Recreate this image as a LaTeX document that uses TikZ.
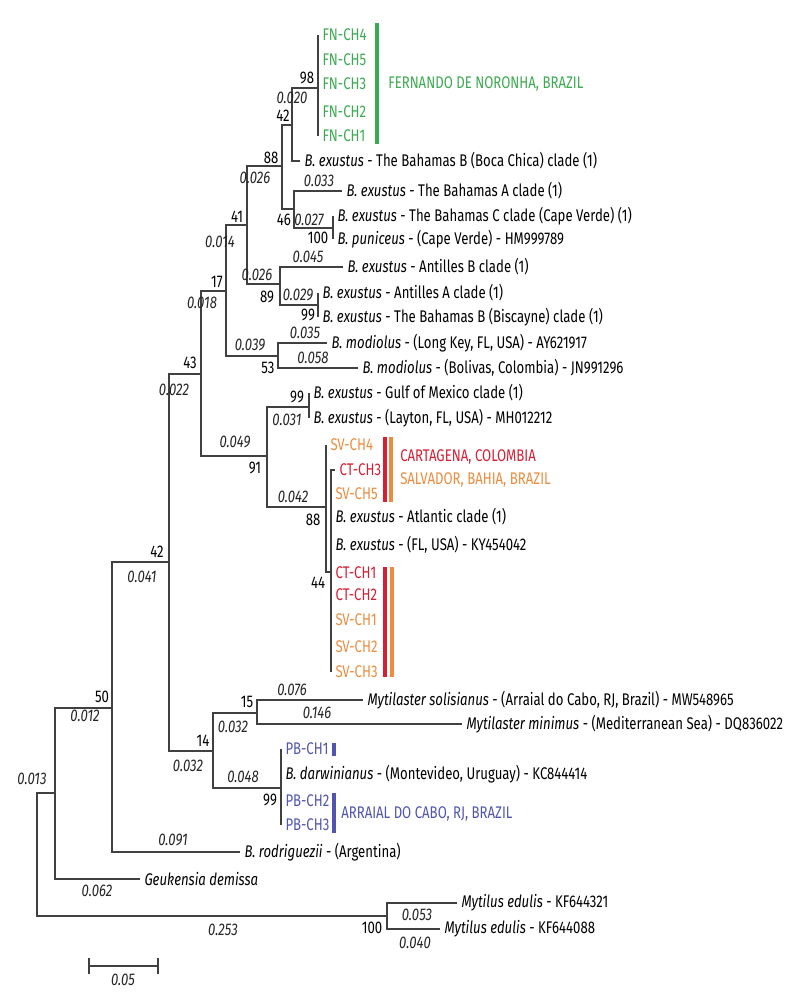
\documentclass[tikz,border=0pt]{standalone}
\usepackage{fontspec}
\setmainfont[FakeStretch=0.78]{Fira Sans}
\definecolor{treegray}{RGB}{64,64,64}
\definecolor{fngreen}{RGB}{60,170,80}
\definecolor{ctred}{RGB}{214,30,52}
\definecolor{svorange}{RGB}{236,140,62}
\definecolor{pbblue}{RGB}{80,85,175}
\newcommand\treefont{\fontsize{12}{13}\selectfont}
\tikzset{
  branch/.style={treegray, line width=1.9pt},
  clbar/.style={line width=2.2pt},
  taxon/.style={anchor=west, inner xsep=3pt, inner ysep=0pt, font=\treefont},
  region/.style={anchor=west, inner sep=0pt, font=\treefont},
  boot/.style={inner sep=0pt, font=\treefont},
  blen/.style={inner sep=0pt, font=\treefont\itshape, text=black!85},
}
\begin{document}
\begin{tikzpicture}[x=0.025cm,y=-0.025cm]
\useasboundingbox (0,0) rectangle (800,998);
% internal nodes
\coordinate (root) at (37,854);
\coordinate (nA) at (55,793);
\coordinate (n50) at (112,708);
\coordinate (n42) at (169,562);
\coordinate (n43) at (201,374);
\coordinate (n17) at (226,291);
\coordinate (n41) at (247,225);
\coordinate (n88a) at (282,166);
\coordinate (n42a) at (292,125);
\coordinate (n98) at (318,88);
\coordinate (n46) at (294,209);
\coordinate (n100a) at (333,228);
\coordinate (n89) at (280,284);
\coordinate (n99a) at (318,305);
\coordinate (n53) at (278,356);
\coordinate (n91) at (267,456);
\coordinate (n99b) at (309,407);
\coordinate (n88b) at (326,507);
\coordinate (n44) at (331,572);
\coordinate (n14) at (213,751);
\coordinate (n15) at (257,713);
\coordinate (nPB) at (281,788);
\coordinate (nMy) at (387,916);
% taxa
\node[taxon, text=fngreen] (fn4) at (318,35) {FN-CH4};
\node[taxon, text=fngreen] (fn5) at (318,60) {FN-CH5};
\node[taxon, text=fngreen] (fn3) at (318,84) {FN-CH3};
\node[taxon, text=fngreen] (fn2) at (318,112) {FN-CH2};
\node[taxon, text=fngreen] (fn1) at (318,136) {FN-CH1};
\node[taxon] (boca) at (300,161) {\textit{B. exustus} - The Bahamas B (Boca Chica) clade (1)};
\node[taxon] (bahA) at (342,191) {\textit{B. exustus} - The Bahamas A clade (1)};
\node[taxon] (bahC) at (333,216) {\textit{B. exustus} - The Bahamas C clade (Cape Verde) (1)};
\node[taxon] (puni) at (333,239) {\textit{B. puniceus} - (Cape Verde) - HM999789};
\node[taxon] (antB) at (343,267) {\textit{B. exustus} - Antilles B clade (1)};
\node[taxon] (antA) at (318,293) {\textit{B. exustus} - Antilles A clade (1)};
\node[taxon] (bisc) at (318,317) {\textit{B. exustus} - The Bahamas B (Biscayne) clade (1)};
\node[taxon] (lkey) at (327,343) {\textit{B. modiolus} - (Long Key, FL, USA) - AY621917};
\node[taxon] (boli) at (358,368) {\textit{B. modiolus} - (Bolivas, Colombia) - JN991296};
\node[taxon] (gulf) at (309,393) {\textit{B. exustus} - Gulf of Mexico clade (1)};
\node[taxon] (layt) at (309,418) {\textit{B. exustus} - (Layton, FL, USA) - MH012212};
\node[taxon, text=svorange] (sv4) at (326,445) {SV-CH4};
\node[taxon, text=ctred] (ct3) at (335,470) {CT-CH3};
\node[taxon, text=svorange] (sv5) at (331,494) {SV-CH5};
\node[taxon] (atl) at (331,517) {\textit{B. exustus} - Atlantic clade (1)};
\node[taxon] (flus) at (331,545) {\textit{B. exustus} - (FL, USA) - KY454042};
\node[taxon, text=ctred] (ct1) at (331,573) {CT-CH1};
\node[taxon, text=ctred] (ct2) at (331,595) {CT-CH2};
\node[taxon, text=svorange] (sv1) at (331,620) {SV-CH1};
\node[taxon, text=svorange] (sv2) at (331,647) {SV-CH2};
\node[taxon, text=svorange] (sv3) at (331,672) {SV-CH3};
\node[taxon] (msol) at (363,700) {\textit{Mytilaster solisianus} - (Arraial do Cabo, RJ, Brazil) - MW548965};
\node[taxon] (mmin) at (462,724) {\textit{Mytilaster minimus} - (Mediterranean Sea) - DQ836022};
\node[taxon, text=pbblue] (pb1) at (281,749) {PB-CH1};
\node[taxon] (darw) at (281,774) {\textit{B. darwinianus} - (Montevideo, Uruguay) - KC844414};
\node[taxon, text=pbblue] (pb2) at (281,801) {PB-CH2};
\node[taxon, text=pbblue] (pb3) at (281,825) {PB-CH3};
\node[taxon] (rodr) at (240,852) {\textit{B. rodriguezii} - (Argentina)};
\node[taxon] (geuk) at (140,879) {\textit{Geukensia demissa}};
\node[taxon] (med1) at (457,903) {\textit{Mytilus edulis} - KF644321};
\node[taxon] (med2) at (440,929) {\textit{Mytilus edulis} - KF644088};
% branches
\draw[branch] (root) |- (nA);
\draw[branch] (root) |- (nMy);
\draw[branch] (nA) |- (n50);
\draw[branch] (nA) |- (geuk.west);
\draw[branch] (n50) |- (n42);
\draw[branch] (n50) |- (rodr.west);
\draw[branch] (n42) |- (n43);
\draw[branch] (n42) |- (n14);
\draw[branch] (n43) |- (n17);
\draw[branch] (n43) |- (n91);
\draw[branch] (n17) |- (n41);
\draw[branch] (n17) |- (n53);
\draw[branch] (n41) |- (n88a);
\draw[branch] (n41) |- (n89);
\draw[branch] (n88a) |- (n42a);
\draw[branch] (n88a) |- (n46);
\draw[branch] (n42a) |- (n98);
\draw[branch] (n42a) |- (boca.west);
\draw[branch] (n98) |- (fn4.west);
\draw[branch] (n98) |- (fn1.west);
\draw[branch] (n46) |- (bahA.west);
\draw[branch] (n46) |- (n100a);
\draw[branch] (n100a) |- (bahC.west);
\draw[branch] (n100a) |- (puni.west);
\draw[branch] (n89) |- (antB.west);
\draw[branch] (n89) |- (n99a);
\draw[branch] (n99a) |- (antA.west);
\draw[branch] (n99a) |- (bisc.west);
\draw[branch] (n53) |- (lkey.west);
\draw[branch] (n53) |- (boli.west);
\draw[branch] (n91) |- (n99b);
\draw[branch] (n91) |- (n88b);
\draw[branch] (n99b) |- (gulf.west);
\draw[branch] (n99b) |- (layt.west);
\draw[branch] (n88b) |- (sv4.west);
\draw[branch] (n88b) |- (n44);
\draw[branch] (n44) |- (ct3.west);
\draw[branch] (n44) |- (sv3.west);
\draw[branch] (n14) |- (n15);
\draw[branch] (n14) |- (nPB);
\draw[branch] (n15) |- (msol.west);
\draw[branch] (n15) |- (mmin.west);
\draw[branch] (nPB) |- (pb1.west);
\draw[branch] (nPB) |- (pb3.west);
\draw[branch] (nMy) |- (med1.west);
\draw[branch] (nMy) |- (med2.west);
% bootstrap values
\node[boot] (b98) at (307,78) {98};
\node[boot] (b42a) at (283,116) {42};
\node[boot] (b88a) at (271,158) {88};
\node[boot] (b46) at (284,220) {46};
\node[boot] (b100a) at (318,238) {100};
\node[boot] (b41) at (237,217) {41};
\node[boot] (b89) at (267,297) {89};
\node[boot] (b99a) at (308,315) {99};
\node[boot] (b17) at (217,282) {17};
\node[boot] (b53) at (268,368) {53};
\node[boot] (b43) at (190,363) {43};
\node[boot] (b99b) at (297,397) {99};
\node[boot] (b91) at (255,468) {91};
\node[boot] (b88b) at (313,520) {88};
\node[boot] (b44) at (318,583) {44};
\node[boot] (b42) at (157,552) {42};
\node[boot] (b50) at (102,697) {50};
\node[boot] (b15) at (247,702) {15};
\node[boot] (b14) at (203,741) {14};
\node[boot] (b99c) at (270,800) {99};
\node[boot] (b100b) at (372,928) {100};
% branch lengths
\node[blen] (l98) at (292,98) {0.020};
\node[blen] (l88a) at (255,178) {0.026};
\node[blen] (lbahA) at (319,181) {0.033};
\node[blen] (l100a) at (309,220) {0.027};
\node[blen] (l41) at (220,242) {0.014};
\node[blen] (lantB) at (308,257) {0.045};
\node[blen] (l89) at (257,275) {0.026};
\node[blen] (l99a) at (298,295) {0.029};
\node[blen] (l17) at (202,303) {0.018};
\node[blen] (llkey) at (305,333) {0.035};
\node[blen] (l53) at (250,345) {0.039};
\node[blen] (lboli) at (313,358) {0.058};
\node[blen] (l43) at (174,390) {0.022};
\node[blen] (l99b) at (287,420) {0.031};
\node[blen] (l91) at (235,442) {0.049};
\node[blen] (l88b) at (293,497) {0.042};
\node[blen] (l42) at (142,577) {0.041};
\node[blen] (lmsol) at (292,690) {0.076};
\node[blen] (lmmin) at (317,713) {0.146};
\node[blen] (l15) at (233,727) {0.032};
\node[blen] (l50) at (85,716) {0.012};
\node[blen] (l14) at (188,766) {0.032};
\node[blen] (lPB) at (243,777) {0.048};
\node[blen] (lA) at (32,779) {0.013};
\node[blen] (lrodr) at (173,840) {0.091};
\node[blen] (lgeuk) at (97,891) {0.062};
\node[blen] (lmed1) at (417,915) {0.053};
\node[blen] (lMy) at (223,930) {0.253};
\node[blen] (lmed2) at (415,943) {0.040};
% locality bars
\draw[clbar, fngreen] (377,23) -- (377,144);
\node[region, text=fngreen] (fern) at (388,84) {FERNANDO DE NORONHA, BRAZIL};
\draw[clbar, ctred] (385,437) -- (385,502);
\draw[clbar, svorange] (391,437) -- (391,502);
\node[region, text=ctred] (cart) at (400,457) {CARTAGENA, COLOMBIA};
\node[region, text=svorange] (salv) at (400,480) {SALVADOR, BAHIA, BRAZIL};
\draw[clbar, ctred] (385,567) -- (385,677);
\draw[clbar, svorange] (392,567) -- (392,677);
\draw[clbar, pbblue] (334,743) -- (334,756);
\draw[clbar, pbblue] (334,793) -- (334,833);
\node[region, text=pbblue] (arra) at (341,814) {ARRAIAL DO CABO, RJ, BRAZIL};
% scale bar
\coordinate (sb1) at (89,966);
\coordinate (sb2) at (158,966);
\draw[branch] (sb1) -- (sb2);
\draw[branch] ([yshift=-6]sb1) -- ([yshift=6]sb1);
\draw[branch] ([yshift=-6]sb2) -- ([yshift=6]sb2);
\node[blen] (lsb) at (123,980) {0.05};
\end{tikzpicture}
\end{document}
